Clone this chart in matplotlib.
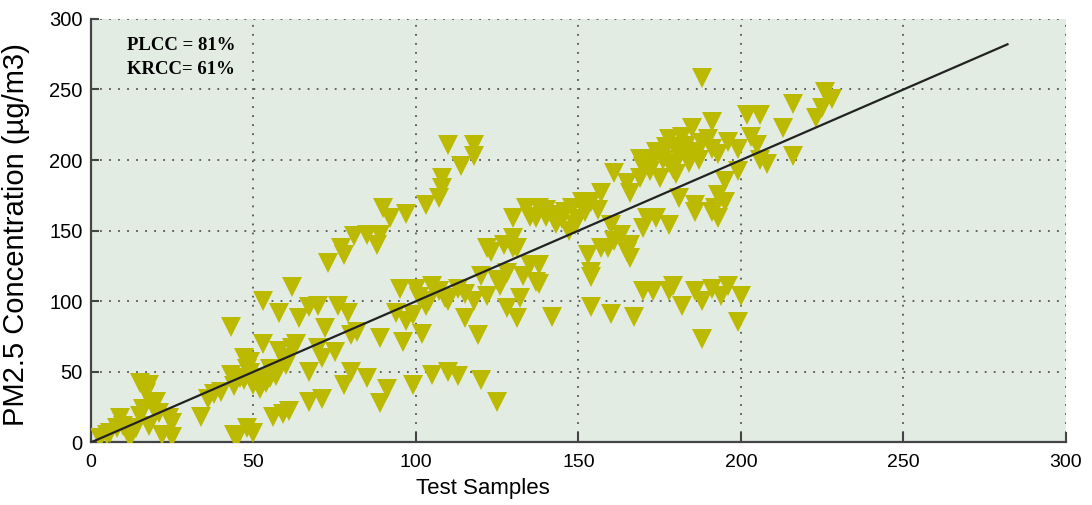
import matplotlib
matplotlib.use("Agg")
import matplotlib.pyplot as plt
import numpy as np

# test samples (x) and PM2.5 concentration (y)
sample_x = [3, 5, 6, 8, 9, 10, 12, 14, 15, 15, 17, 18, 20, 21, 22, 24, 25, 25, 12, 18, 16, 19,
            34, 36, 38, 40, 43, 43, 44, 45, 46, 47, 48, 48, 49, 50, 50, 51, 52, 53, 53, 54, 55, 56, 56,
            58, 58, 59, 60, 61, 62, 62, 44, 47, 52, 55, 57, 49, 60, 63,
            64, 67, 67, 67, 70, 70, 71, 71, 72, 73, 75, 76, 77, 78, 78, 79, 80, 80, 81, 82, 85, 85,
            88, 89, 89, 89, 90, 91,
            92, 94, 95, 96, 97, 97, 99, 99, 100, 102, 103, 103, 105, 105, 107, 108, 108, 109, 110, 110,
            113, 113, 114, 115, 118, 118, 119, 120, 101, 104, 107, 110, 115, 118, 125, 120,
            122, 122, 123, 125, 126, 127, 128, 130, 130, 130, 131, 131, 132, 134, 135, 137, 137, 138,
            138, 138, 142, 142, 148, 149, 140, 145, 147, 128, 133,
            135, 140, 143, 146, 150, 156,
            151, 152, 153, 154, 154, 154, 154, 157, 157, 159, 160, 160, 161, 161, 163, 165, 165, 166,
            166, 166, 167, 169, 169, 170, 170, 171, 172, 173, 174, 174, 175, 177, 178, 178, 179, 179,
            180, 181, 182, 182, 183, 185, 186, 186, 186, 186, 188, 188, 188, 191, 191, 191, 191, 192,
            193, 193, 193, 194, 195, 195, 196, 196, 199, 199, 199, 200, 202, 203, 205, 206, 208,
            176, 184, 188, 181, 178, 206, 170, 173, 176, 180, 183, 187, 190, 178,
            213, 216, 216, 223, 225, 226, 228]
pm25 = [3, 5, 7, 10, 17, 12, 8, 10, 19, 42, 35, 41, 29, 21, 5, 17, 14, 4, 3, 12, 24, 25,
        18, 31, 34, 36, 82, 48, 5, 3, 46, 60, 10, 52, 49, 7, 41, 44, 46, 70, 100, 42, 46, 18, 50,
        65, 92, 20, 55, 22, 67, 110, 40, 44, 38, 52, 47, 57, 60, 70,
        88, 96, 50, 29, 97, 67, 60, 31, 81, 127, 64, 97, 138, 133, 41, 92, 76, 50, 146, 78, 147, 46,
        140, 74, 28, 147, 166, 38,
        159, 92, 109, 71, 86, 162, 90, 41, 109, 77, 97, 168, 111, 48, 173, 180, 187, 102, 50, 211,
        109, 47, 196, 88, 211, 203, 76, 44, 103, 100, 107, 100, 105, 100, 115, 118,
        104, 138, 135, 29, 111, 140, 95, 138, 159, 145, 88, 138, 102, 166, 126, 114, 159, 126,
        166, 112, 89, 161, 166, 154, 160, 158, 150, 120, 118,
        160, 165, 155, 163, 158, 165,
        170, 163, 133, 170, 121, 117, 96, 177, 138, 138, 91, 154, 191, 143, 147, 184, 135, 177,
        140, 131, 89, 201, 187, 107, 152, 159, 192, 107, 206, 159, 187, 209, 154, 107, 111, 194,
        209, 173, 97, 216, 204, 223, 206, 107, 168, 163, 258, 100, 73, 109, 208, 227, 163, 166,
        204, 175, 159, 104, 185, 170, 111, 213, 208, 192, 85, 104, 232, 216, 211, 232, 197,
        200, 198, 212, 203, 198, 200, 195, 200, 205, 190, 210, 200, 215, 215,
        223, 240, 203, 230, 237, 248, 243]

fit_x = [0, 282]
stats = ["PLCC = 81%", "KRCC= 61%"]

plt.rcParams['font.family'] = ['Liberation Sans', 'DejaVu Sans']

fig = plt.figure(figsize=(10.92, 5.05), dpi=100)
ax = fig.add_axes([0.0831, 0.1238, 0.8931, 0.8388])
ax.set_facecolor('#e2ece3')

ax.plot(sample_x, pm25, linestyle='none', marker='v', markersize=14.5,
        color='#bbba00', markeredgewidth=0, zorder=3)
ax.plot(fit_x, fit_x, color='#222222', linewidth=1.6, zorder=4)

ax.set_xlim(0, 300)
ax.set_ylim(0, 300)
ax.set_xticks(np.arange(0, 301, 50))
ax.set_yticks(np.arange(0, 301, 50))
ax.grid(True, color='#555555', linestyle=(0, (1, 4)), linewidth=1.3)
ax.set_axisbelow(True)

for s in ['top', 'right']:
    ax.spines[s].set_visible(False)
for s in ['left', 'bottom']:
    ax.spines[s].set_color('#444444')
    ax.spines[s].set_linewidth(1.6)

ax.tick_params(axis='y', direction='in', length=6, width=1.5, color='#444444',
               labelsize=14.5, pad=6)
ax.tick_params(axis='x', direction='in', length=7, width=1.5, color='#444444',
               labelsize=14, pad=8)

ax.set_xlabel("Test Samples", fontsize=16)
ax.xaxis.set_label_coords(0.402, -0.085)
ax.set_ylabel("PM2.5 Concentration (µg/m3)", fontsize=21)
ax.yaxis.set_label_coords(-0.062, 0.49)

ax.text(11.2, 281.5, stats[0], family='Liberation Serif', fontweight='bold',
        fontsize=13.5, va='center', ha='left')
ax.text(11.2, 264, stats[1], family='Liberation Serif', fontweight='bold',
        fontsize=13.5, va='center', ha='left')

plt.savefig('out.png', dpi=100)
